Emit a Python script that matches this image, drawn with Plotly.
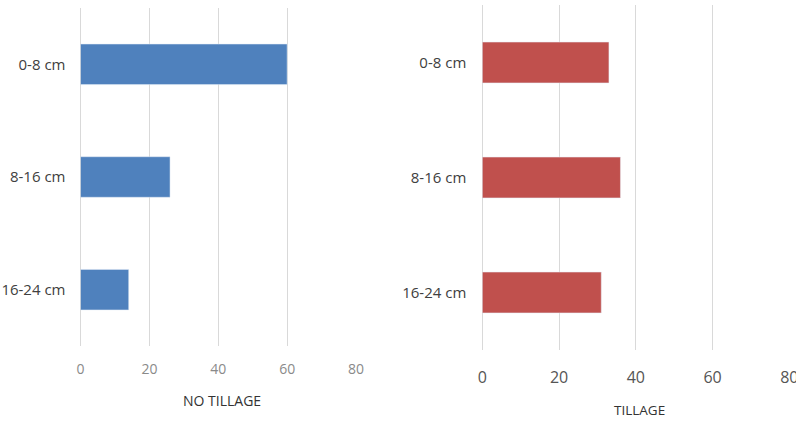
import plotly.graph_objects as go

categories = ["0-8 cm", "8-16 cm", "16-24 cm"]
no_tillage = [60, 26, 14]
tillage = [33, 36, 31]
x_ticks = [0, 20, 40, 60, 80]

W, H = 796, 422
fig = go.Figure()
fig.add_trace(go.Bar(y=categories, x=no_tillage, orientation="h", marker_color="#4F81BD",
                     width=0.36, xaxis="x", yaxis="y", showlegend=False))
fig.add_trace(go.Bar(y=categories, x=tillage, orientation="h", marker_color="#C0504D",
                     width=0.355, xaxis="x2", yaxis="y2", showlegend=False))

font_fam = "Open Sans, Liberation Sans, sans-serif"
grid = "#d9d9d9"

fig.update_layout(
    width=W, height=H, margin=dict(l=0, r=0, t=0, b=0),
    paper_bgcolor="white", plot_bgcolor="white",
    font=dict(family=font_fam),
    xaxis=dict(domain=[80.5 / W, 356 / W], range=[0, 80], tickvals=x_ticks,
               showgrid=True, gridcolor=grid, gridwidth=1, zeroline=True, zerolinecolor=grid,
               zerolinewidth=1, showline=False, ticks="", automargin=False,
               ticklabeloverflow="allow",
               tickfont=dict(size=14, color="#8a8a8a"), ticklabelstandoff=13,
               anchor="y"),
    yaxis=dict(domain=[1 - 346 / H, 1 - 8 / H], type="category", categoryorder="array",
               categoryarray=categories, range=[2.5, -0.5], showgrid=False, zeroline=False,
               showline=False, ticks="", tickfont=dict(size=15, color="#404040"), automargin=False,
               ticklabelstandoff=14, anchor="x"),
    xaxis2=dict(domain=[482.3 / W, 789.3 / W], range=[0, 80], tickvals=x_ticks,
                showgrid=True, gridcolor=grid, gridwidth=1, zeroline=True, zerolinecolor=grid,
                zerolinewidth=1, showline=False, ticks="", automargin=False,
                ticklabeloverflow="allow",
                tickfont=dict(size=16, color="#555555"), ticklabelstandoff=16,
                anchor="y2"),
    yaxis2=dict(domain=[1 - 350 / H, 1 - 5 / H], type="category", categoryorder="array",
                categoryarray=categories, range=[2.5, -0.5], showgrid=False, zeroline=False,
                showline=False, ticks="", tickfont=dict(size=15, color="#404040"), automargin=False,
                ticklabelstandoff=15, anchor="x2"),
    annotations=[
        dict(text="NO TILLAGE", x=222 / W, y=1 - 400 / H, xref="paper", yref="paper",
             showarrow=False, font=dict(size=14, color="#333333"), xanchor="center", yanchor="middle"),
        dict(text="TILLAGE", x=639 / W, y=1 - 410 / H, xref="paper", yref="paper",
             showarrow=False, font=dict(size=13.5, color="#333333"), xanchor="center", yanchor="middle"),
    ],
)

fig.write_html("out.html")
